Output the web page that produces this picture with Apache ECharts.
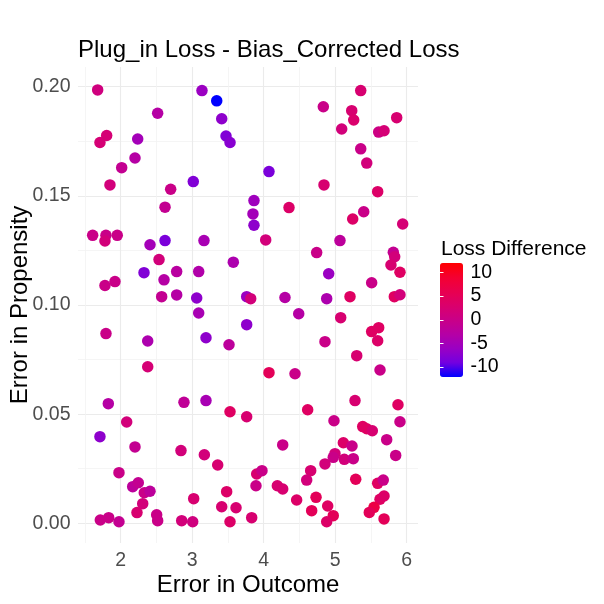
<!DOCTYPE html>
<html><head><meta charset="utf-8">
<script src="https://cdn.jsdelivr.net/npm/echarts@6/dist/echarts.min.js"></script>
<style>html,body{margin:0;padding:0;background:#fff}#c{width:604px;height:604px}</style>
</head><body><div id="c"></div>
<script>
// Error in Outcome
const xs = [1.678,1.804,1.710,2.238,2.200,2.014,1.850,2.517,2.699,2.620,3.015,3.137,3.343,3.413,3.473,3.529,4.074,3.864,3.850,3.864,
4.354,4.834,5.357,5.231,5.259,5.091,5.608,5.683,5.860,5.357,5.441,4.843,5.594,5.399,5.245,5.944,1.608,1.794,1.780,1.952,
2.410,2.620,3.165,2.536,3.575,2.326,2.783,3.091,2.606,1.780,1.920,2.573,2.783,3.063,3.091,1.794,2.378,3.193,3.515,2.378,
4.028,5.067,4.741,5.813,5.832,5.780,5.906,4.909,5.510,3.762,3.818,4.298,4.881,5.207,5.827,5.906,4.490,5.077,3.762,5.510,
5.608,5.594,4.857,5.301,4.074,4.438,5.627,1.827,2.885,3.193,3.529,2.084,1.710,2.200,2.843,3.170,3.357,1.976,2.168,2.246,
2.330,2.410,2.308,2.228,1.715,1.832,1.976,2.503,2.517,2.853,3.007,3.021,3.482,3.413,3.613,3.529,3.762,5.277,5.878,4.615,
4.983,5.906,5.385,5.441,5.519,5.720,4.266,5.114,5.235,4.997,4.973,4.857,5.127,5.253,5.846,3.902,3.976,3.892,4.657,4.601,
5.287,5.594,5.672,4.191,4.266,4.461,4.732,5.627,5.683,4.895,4.671,5.543,5.477,4.973,4.881,5.683,3.832];
// Error in Propensity
const ys = [0.1985,0.1776,0.1744,0.1760,0.1673,0.1629,0.1550,0.1878,0.1530,0.1448,0.1565,0.1982,0.1935,0.1853,0.1774,0.1744,0.1611,0.1478,0.1417,0.1365,
0.1446,0.1908,0.1982,0.1890,0.1847,0.1806,0.1792,0.1798,0.1858,0.1715,0.1650,0.1550,0.1519,0.1427,0.1394,0.1371,0.1319,0.1319,0.1293,0.1319,
0.1276,0.1295,0.1295,0.1208,0.1196,0.1148,0.1153,0.1153,0.1115,0.1089,0.1107,0.1038,0.1046,0.1032,0.0963,0.0869,0.0835,0.0850,0.0818,0.0717,
0.1298,0.1295,0.1240,0.1241,0.1221,0.1183,0.1150,0.1143,0.1102,0.1038,0.1029,0.1034,0.1029,0.1038,0.1038,0.1047,0.0960,0.0942,0.0910,0.0878,
0.0896,0.0836,0.0832,0.0768,0.0690,0.0685,0.0702,0.0548,0.0554,0.0562,0.0511,0.0464,0.0397,0.0350,0.0333,0.0314,0.0267,0.0232,0.0168,0.0186,
0.0140,0.0147,0.0090,0.0049,0.0015,0.0026,0.0007,0.0039,0.0012,0.0012,0.0007,0.0113,0.0145,0.0076,0.0071,0.0007,0.0488,0.0562,0.0543,0.0520,
0.0470,0.0465,0.0443,0.0433,0.0424,0.0383,0.0359,0.0369,0.0354,0.0319,0.0302,0.0272,0.0293,0.0296,0.0311,0.0226,0.0241,0.0172,0.0241,0.0198,
0.0202,0.0183,0.0198,0.0172,0.0157,0.0107,0.0119,0.0110,0.0125,0.0079,0.0058,0.0073,0.0050,0.0035,0.0007,0.0020,0.0026];
// Loss Difference
const vals = [1,2,2,-5,-3,-1,1.5,-3,0,-1,-8,-6,-12.1,-7,-8,-7.5,-8.5,-5.5,-5,-7,
3.5,0,2.5,2.5,3,1.5,0.5,2,2.5,0,1.5,2.5,3.5,0,3.5,2,0,0,1.5,0,
-5,-8.5,-4.5,1.5,-4,-8,-2.5,-3.5,-3,0,0,-1,-3,-7,-4.5,0,-4,-7,-2,2,
1.5,-2,0,-1,1.5,2.5,4,-6,0,-6,1.5,-3,-4,4,4,1.5,-3,2.5,-7,4,
4,3.5,0,2.5,5,0,0,-3,-1.5,-4.5,4,1.5,-7,-1,1.5,1.5,2.5,0,-2,-1,
0,-2,1.5,2.5,0,0,-1,0,0,1.5,1,2.5,3.5,2.5,2.5,3.5,2.5,2.5,4,4,
0,0,4,4,2.5,0,0,3.5,0,1.5,0,1.5,1.5,0,0,2.5,0,0,2.5,1.5,
5,4,0,2.5,2.5,3.5,5,4,3.5,4,5,7,5,5,3.5,5,2.5];

const xMajor = [2,3,4,5,6];
const xMinor = [1.5,2.5,3.5,4.5,5.5];
const yMajor = [0,0.05,0.10,0.15,0.20];
const yMinor = [0.025,0.075,0.125,0.175];
const legendTicks = [-10,-5,0,5,10];
const gradient = ['#0000FF','#7300E0','#9A00C3','#B500A5','#C90088','#DA006C','#E8004F','#F40031','#FF0000'];

const FONT = '"Liberation Sans", Arial, sans-serif';
const data = xs.map((x,i)=>[x, ys[i], vals[i]]);

const XMIN = 1.403, XMAX = 6.158, YMIN = -0.00902, YMAX = 0.2090;
const LMIN = -12.1, LMAX = 12.0;

const chart = echarts.init(document.getElementById('c'), null, {renderer:'canvas'});
chart.setOption({
  backgroundColor:'#fff',
  animation:false,
  textStyle:{fontFamily:FONT},
  title:[
    {text:'Plug_in Loss - Bias_Corrected Loss', left:78, top:38.5, padding:0,
     textStyle:{fontSize:24, fontWeight:'normal', color:'#000', fontFamily:FONT}},
    {text:'Loss Difference', left:441, top:239, padding:0,
     textStyle:{fontSize:21, fontWeight:'normal', color:'#000', fontFamily:FONT}}
  ],
  grid:[
    {left:78, top:67, width:340, height:476, outerBoundsMode:'none', containLabel:false},
    {left:440, top:263, width:23, height:114, outerBoundsMode:'none', containLabel:false}
  ],
  xAxis:[
    {type:'value', gridIndex:0, min:XMIN, max:XMAX,
     name:'Error in Outcome', nameLocation:'middle', nameGap:30, nameMoveOverlap:false,
     nameTextStyle:{fontSize:24, color:'#000', fontFamily:FONT},
     axisLine:{show:false}, axisTick:{show:false, customValues:xMajor},
     axisLabel:{customValues:xMajor, fontSize:19.5, color:'#4D4D4D', margin:8, fontFamily:FONT},
     splitLine:{show:true, lineStyle:{color:'#EBEBEB', width:1.1}}},
    {type:'value', gridIndex:0, min:XMIN, max:XMAX,
     axisLine:{show:false}, axisTick:{show:false, customValues:xMinor},
     axisLabel:{show:false},
     splitLine:{show:true, lineStyle:{color:'#F3F3F3', width:0.8}}},
    {type:'value', gridIndex:1, min:0, max:1, show:false}
  ],
  yAxis:[
    {type:'value', gridIndex:0, min:YMIN, max:YMAX,
     name:'Error in Propensity', nameLocation:'middle', nameGap:46, nameMoveOverlap:false,
     nameTextStyle:{fontSize:24, color:'#000', fontFamily:FONT},
     axisLine:{show:false}, axisTick:{show:false, customValues:yMajor},
     axisLabel:{customValues:yMajor, fontSize:19.5, color:'#4D4D4D', margin:7.5, fontFamily:FONT,
       formatter:v=>v.toFixed(2)},
     splitLine:{show:true, lineStyle:{color:'#EBEBEB', width:1.1}}},
    {type:'value', gridIndex:0, min:YMIN, max:YMAX,
     axisLine:{show:false}, axisTick:{show:false, customValues:yMinor},
     axisLabel:{show:false},
     splitLine:{show:true, lineStyle:{color:'#F3F3F3', width:0.8}}},
    {type:'value', gridIndex:1, min:LMIN, max:LMAX, position:'right', z:10,
     axisLine:{show:false},
     axisTick:{show:true, inside:true, length:3.5, customValues:legendTicks, lineStyle:{color:'#FFFFFF', width:1}},
     axisLabel:{customValues:legendTicks, fontSize:19.5, color:'#000', margin:7.5, fontFamily:FONT},
     splitLine:{show:false}},
    {type:'value', gridIndex:1, min:LMIN, max:LMAX, position:'left', z:10,
     axisLine:{show:false},
     axisTick:{show:true, inside:true, length:3.5, customValues:legendTicks, lineStyle:{color:'#FFFFFF', width:1}},
     axisLabel:{show:false},
     splitLine:{show:false}}
  ],
  visualMap:{
    type:'continuous', min:LMIN, max:LMAX, dimension:2, seriesIndex:0,
    left:440, top:263, itemWidth:23, itemHeight:114, padding:0,
    calculable:false, hoverLink:false, text:null, show:true,
    inRange:{color:gradient}
  },
  series:[{
    type:'scatter', xAxisIndex:0, yAxisIndex:0, symbol:'circle', symbolSize:11.5,
    data:data, itemStyle:{opacity:1}, silent:true
  }]
});
</script></body></html>
